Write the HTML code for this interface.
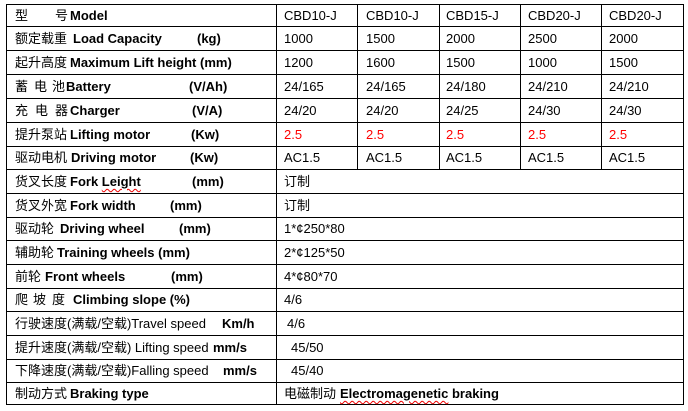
<!DOCTYPE html>
<html>
<head>
<meta charset="utf-8">
<style>
html,body{margin:0;padding:0;background:#fff;}
#c{position:relative;width:688px;height:411px;overflow:hidden;background:#fff;
font-family:"Liberation Sans","Noto Sans CJK SC",sans-serif;font-size:13px;color:#000;}
.h{position:absolute;height:1px;background:#000;}
.v{position:absolute;width:1px;background:#000;}
.r{position:absolute;left:0;width:688px;}
.r span{position:absolute;top:0;white-space:pre;}
.b{font-weight:bold;}
.red{color:#f00;}
.wv{text-decoration:underline wavy #e00;text-decoration-thickness:1px;text-underline-offset:2px;}
</style>
</head>
<body>
<div id="c">
<!-- horizontal lines -->
<div class="h" style="left:6px;width:678px;top:4px"></div>
<div class="h" style="left:6px;width:678px;top:26px"></div>
<div class="h" style="left:6px;width:678px;top:50px"></div>
<div class="h" style="left:6px;width:678px;top:74px"></div>
<div class="h" style="left:6px;width:678px;top:98px"></div>
<div class="h" style="left:6px;width:678px;top:122px"></div>
<div class="h" style="left:6px;width:678px;top:146px"></div>
<div class="h" style="left:6px;width:678px;top:169px"></div>
<div class="h" style="left:6px;width:678px;top:193px"></div>
<div class="h" style="left:6px;width:678px;top:217px"></div>
<div class="h" style="left:6px;width:678px;top:240px"></div>
<div class="h" style="left:6px;width:678px;top:264px"></div>
<div class="h" style="left:6px;width:678px;top:288px"></div>
<div class="h" style="left:6px;width:678px;top:311px"></div>
<div class="h" style="left:6px;width:678px;top:335px"></div>
<div class="h" style="left:6px;width:678px;top:359px"></div>
<div class="h" style="left:6px;width:678px;top:382px"></div>
<div class="h" style="left:6px;width:678px;top:404px"></div>
<!-- vertical lines -->
<div class="v" style="left:6px;top:4px;height:401px"></div>
<div class="v" style="left:276px;top:4px;height:401px"></div>
<div class="v" style="left:683px;top:4px;height:401px"></div>
<div class="v" style="left:357px;top:4px;height:166px"></div>
<div class="v" style="left:439px;top:4px;height:166px"></div>
<div class="v" style="left:520px;top:4px;height:166px"></div>
<div class="v" style="left:601px;top:4px;height:166px"></div>

<!-- rows -->
<div class="r" style="top:5px;height:21px;line-height:21px">
<span style="left:15px">型</span><span style="left:55px">号</span><span class="b" style="left:70px">Model</span>
<span style="left:284px">CBD10-J</span><span style="left:366px">CBD10-J</span><span style="left:446px">CBD15-J</span><span style="left:528px">CBD20-J</span><span style="left:609px">CBD20-J</span>
</div>
<div class="r" style="top:27px;height:23px;line-height:23px">
<span style="left:15px">额定载重</span><span class="b" style="left:73px">Load Capacity</span><span class="b" style="left:197px">(kg)</span>
<span style="left:284px">1000</span><span style="left:366px">1500</span><span style="left:446px">2000</span><span style="left:528px">2500</span><span style="left:609px">2000</span>
</div>
<div class="r" style="top:51px;height:23px;line-height:23px">
<span style="left:15px">起升高度</span><span class="b" style="left:70px">Maximum Lift height (mm)</span>
<span style="left:284px">1200</span><span style="left:366px">1600</span><span style="left:446px">1500</span><span style="left:528px">1000</span><span style="left:609px">1500</span>
</div>
<div class="r" style="top:75px;height:23px;line-height:23px">
<span style="left:15px">蓄</span><span style="left:34px">电</span><span style="left:52px">池</span><span class="b" style="left:66px">Battery</span><span class="b" style="left:189px">(V/Ah)</span>
<span style="left:284px">24/165</span><span style="left:366px">24/165</span><span style="left:446px">24/180</span><span style="left:528px">24/210</span><span style="left:609px">24/210</span>
</div>
<div class="r" style="top:99px;height:23px;line-height:23px">
<span style="left:15px">充</span><span style="left:35px">电</span><span style="left:55px">器</span><span class="b" style="left:70px">Charger</span><span class="b" style="left:192px">(V/A)</span>
<span style="left:284px">24/20</span><span style="left:366px">24/20</span><span style="left:446px">24/25</span><span style="left:528px">24/30</span><span style="left:609px">24/30</span>
</div>
<div class="r" style="top:123px;height:23px;line-height:23px">
<span style="left:15px">提升泵站</span><span class="b" style="left:70px">Lifting motor</span><span class="b" style="left:191px">(Kw)</span>
<span class="red" style="left:284px">2.5</span><span class="red" style="left:366px">2.5</span><span class="red" style="left:446px">2.5</span><span class="red" style="left:528px">2.5</span><span class="red" style="left:609px">2.5</span>
</div>
<div class="r" style="top:147px;height:22px;line-height:22px">
<span style="left:15px">驱动电机</span><span class="b" style="left:71px">Driving motor</span><span class="b" style="left:190px">(Kw)</span>
<span style="left:284px">AC1.5</span><span style="left:366px">AC1.5</span><span style="left:446px">AC1.5</span><span style="left:528px">AC1.5</span><span style="left:609px">AC1.5</span>
</div>
<div class="r" style="top:170px;height:23px;line-height:23px">
<span style="left:15px">货叉长度</span><span class="b" style="left:70px">Fork <span class="wv" style="position:static">Leight</span></span><span class="b" style="left:192px">(mm)</span>
<span style="left:284px">订制</span>
</div>
<div class="r" style="top:194px;height:23px;line-height:23px">
<span style="left:15px">货叉外宽</span><span class="b" style="left:70px">Fork width</span><span class="b" style="left:170px">(mm)</span>
<span style="left:284px">订制</span>
</div>
<div class="r" style="top:218px;height:22px;line-height:22px">
<span style="left:15px">驱动轮</span><span class="b" style="left:60px">Driving wheel</span><span class="b" style="left:179px">(mm)</span>
<span style="left:284px">1*¢250*80</span>
</div>
<div class="r" style="top:241px;height:23px;line-height:23px">
<span style="left:15px">辅助轮</span><span class="b" style="left:57px">Training wheels (mm)</span>
<span style="left:284px">2*¢125*50</span>
</div>
<div class="r" style="top:265px;height:23px;line-height:23px">
<span style="left:15px">前轮</span><span class="b" style="left:45px">Front wheels</span><span class="b" style="left:171px">(mm)</span>
<span style="left:284px">4*¢80*70</span>
</div>
<div class="r" style="top:289px;height:22px;line-height:22px">
<span style="left:15px">爬</span><span style="left:33px">坡</span><span style="left:52px">度</span><span class="b" style="left:73px">Climbing slope (%)</span>
<span style="left:284px">4/6</span>
</div>
<div class="r" style="top:312px;height:23px;line-height:23px">
<span style="left:15px">行驶速度(满载/空载)Travel speed</span><span class="b" style="left:222px">Km/h</span>
<span style="left:287px">4/6</span>
</div>
<div class="r" style="top:336px;height:23px;line-height:23px">
<span style="left:15px">提升速度(满载/空载) Lifting speed</span><span class="b" style="left:213px">mm/s</span>
<span style="left:291px">45/50</span>
</div>
<div class="r" style="top:360px;height:22px;line-height:22px">
<span style="left:15px">下降速度(满载/空载)Falling speed</span><span class="b" style="left:223px">mm/s</span>
<span style="left:291px">45/40</span>
</div>
<div class="r" style="top:383px;height:21px;line-height:21px">
<span style="left:15px">制动方式</span><span class="b" style="left:70px">Braking type</span>
<span style="left:284px">电磁制动</span><span class="b" style="left:340px"><span class="wv" style="position:static">Electromagenetic</span> braking</span>
</div>
</div>
</body>
</html>
